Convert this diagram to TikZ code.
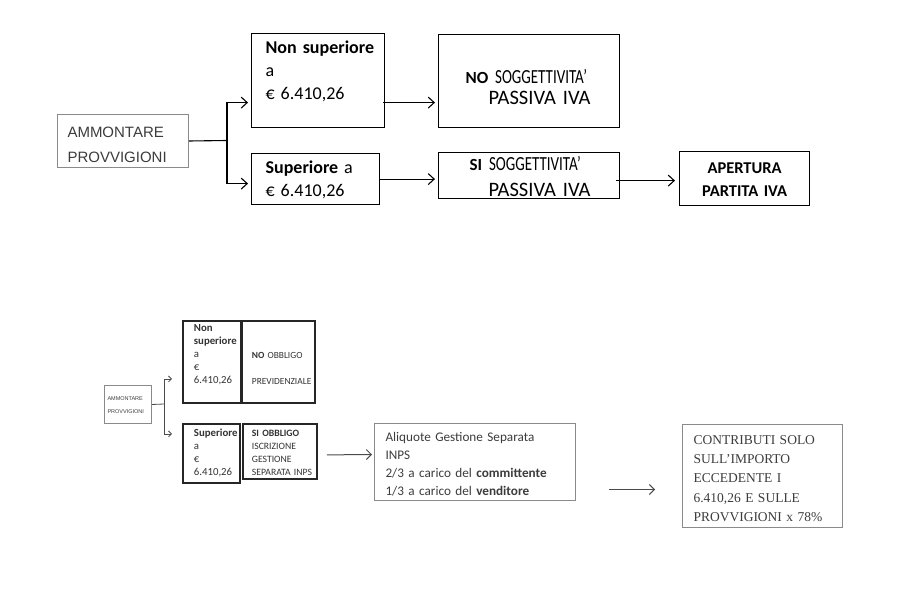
\documentclass[tikz,border=0pt]{standalone}
\usepackage{fontspec}
\setmainfont{Carlito}
\newfontfamily\narrowfont[FakeStretch=0.75]{Carlito}
\newfontfamily\arialfont{Liberation Sans}
\newfontfamily\cambriafont{Liberation Serif}
\usepackage{tikz}
\usetikzlibrary{arrows.meta,calc}
\usepackage{xcolor}
\definecolor{BoxGrey}{HTML}{8a8a8a}
\definecolor{TextGrey}{HTML}{3c3c3c}
\definecolor{LineGrey}{HTML}{4a4a4a}
\hyphenpenalty=10000
\exhyphenpenalty=10000

\begin{document}
\begin{tikzpicture}[x=1pt,y=-1pt,
    topbox/.style={draw,line width=1.2pt,anchor=north west,inner ysep=0pt,align=left,
        font=\fontsize{18}{23}\selectfont},
    thickbox/.style={draw=black!85,line width=1.8pt,anchor=north west,inner ysep=0pt,align=left,
        font=\fontsize{9.4}{13}\selectfont,text=black!80},
    greybox/.style={draw=BoxGrey,line width=1pt,anchor=north west,inner ysep=0pt,align=left,text=TextGrey},
    link/.style={line width=1.1pt},
    arr/.style={link,-{Straight Barb[length=6pt,width=11pt]}},
    smalllink/.style={line width=0.8pt,draw=LineGrey},
    smallarr/.style={smalllink,-{Straight Barb[length=3pt,width=6pt]}},
    arrb/.style={line width=1pt,draw=LineGrey,-{Straight Barb[length=5pt,width=10pt]}}]
    \useasboundingbox (0,0) rectangle (918,612);

    % upper diagram
    \node[greybox,inner xsep=10pt,text width=111pt,text height=23pt,text depth=30pt,
        font=\arialfont\fontsize{15}{25}\selectfont] (ammo) at (57,114) {AMMONTARE\\PROVVIGIONI};
    \node[topbox,inner xsep=14pt,text width=105pt,text height=20pt,text depth=74pt] (nosup) at (251,33)
        {\textbf{Non~superiore}\\a\\€ 6.410,26};
    \node[topbox,inner xsep=14pt,text width=100pt,text height=20pt,text depth=31pt] (sup) at (251,153)
        {\textbf{Superiore} a\\€ 6.410,26};
    \node[topbox,inner xsep=27pt,text width=127pt,text height=49pt,text depth=44pt,
        font=\fontsize{20.5}{21}\selectfont] (nosogg) at (438,34)
        {{\fontsize{17}{21}\selectfont\textbf{NO}}~{\narrowfont\fontsize{20}{21}\selectfont SOGGETTIVITA’}\\
         \hspace*{23pt}PASSIVA~IVA};
    \node[topbox,inner xsep=31pt,text width=119pt,text height=18pt,text depth=28pt,
        font=\fontsize{20.5}{26}\selectfont] (si) at (438,152)
        {{\fontsize{17}{26}\selectfont\textbf{SI}}~{\narrowfont\fontsize{20}{26}\selectfont SOGGETTIVITA’}\\
         \hspace*{19pt}PASSIVA~IVA};
    \node[topbox,inner xsep=5pt,text width=120pt,text height=22pt,text depth=32pt,align=center,
        font=\fontsize{16.5}{23}\selectfont] (apertura) at (679,151)
        {\textbf{APERTURA}\\\textbf{PARTITA IVA}};

    \coordinate (fork) at (227,140.5);
    \draw[link] (ammo.east) -- (fork);
    \draw[arr] (fork) |- ($(nosup.west)+(-3,22)$);
    \draw[arr] (fork) |- ($(sup.west)+(-3,4.5)$);
    \draw[arr] ($(nosup.east)+(-2,22)$) -- ($(nosogg.west)+(-3,21.5)$);
    \draw[arr] (sup.east) -- ([xshift=-3pt]si.west |- sup.east);
    \draw[arr] ($(si.east)+(-4,5)$) -- ($(apertura.west)+(-4,2)$);

    % lower diagram
    \node[greybox,inner xsep=3pt,text width=41pt,text height=15pt,text depth=23pt,
        font=\arialfont\fontsize{5.5}{13}\selectfont] (ammob) at (104,385) {AMMONTARE\\PROVVIGIONI};
    \node[thickbox,inner xsep=11pt,text width=36pt,text height=11pt,text depth=71pt,
        font=\fontsize{10.8}{13}\selectfont] (nosupb) at (182,320)
        {\textbf{Non}\\\textbf{superiore}\\a\\€\\6.410,26};
    \node[thickbox,inner xsep=10pt,text width=53pt,text height=38pt,text depth=44pt] (noobb) at (241,320)
        {\textbf{NO}~OBBLIGO\\[13pt]PREVIDENZIALE};
    \node[thickbox,inner xsep=11pt,text width=35pt,text height=13pt,text depth=46pt,
        font=\fontsize{10.8}{12.7}\selectfont] (supb) at (182,423)
        {\textbf{Superiore}\\a\\€\\6.410,26};
    \node[thickbox,inner xsep=9pt,text width=56pt,text height=13pt,text depth=42pt,
        font=\fontsize{9.7}{12.7}\selectfont] (siobb) at (242,423)
        {\textbf{SI~OBBLIGO}\\ISCRIZIONE\\GESTIONE\\SEPARATA~INPS};
    \node[greybox,inner xsep=11pt,text width=179pt,text height=18pt,text depth=59pt,
        font=\fontsize{13.2}{18}\selectfont] (aliquote) at (374,423)
        {Aliquote Gestione Separata\\INPS\\2/3 a carico del \textbf{committente}\\1/3 a carico del \textbf{venditore}};
    \node[greybox,inner xsep=11pt,text width=138pt,text height=20pt,text depth=83pt,
        font=\cambriafont\fontsize{13.5}{19.2}\selectfont] (contributi) at (682,424)
        {CONTRIBUTI SOLO\\SULL’IMPORTO\\ECCEDENTE I\\6.410,26 E SULLE\\PROVVIGIONI x 78\%};

    \coordinate (forkb) at (164,404);
    \draw[smalllink] (ammob.east) -- (forkb);
    \draw[smallarr] (forkb) |- ($(nosupb.west)+(-10,17)$);
    \draw[smallarr] (forkb) |- ($(supb.west)+(-10,-19.5)$);
    \draw[arrb] ($(siobb.east)+(9,3.5)$) -- ($(aliquote.west)+(-2,-7.5)$);
    \draw[arrb] ($(aliquote.east)+(33,27.5)$) -- ($(contributi.west)+(-27,13.5)$);
\end{tikzpicture}
\end{document}
